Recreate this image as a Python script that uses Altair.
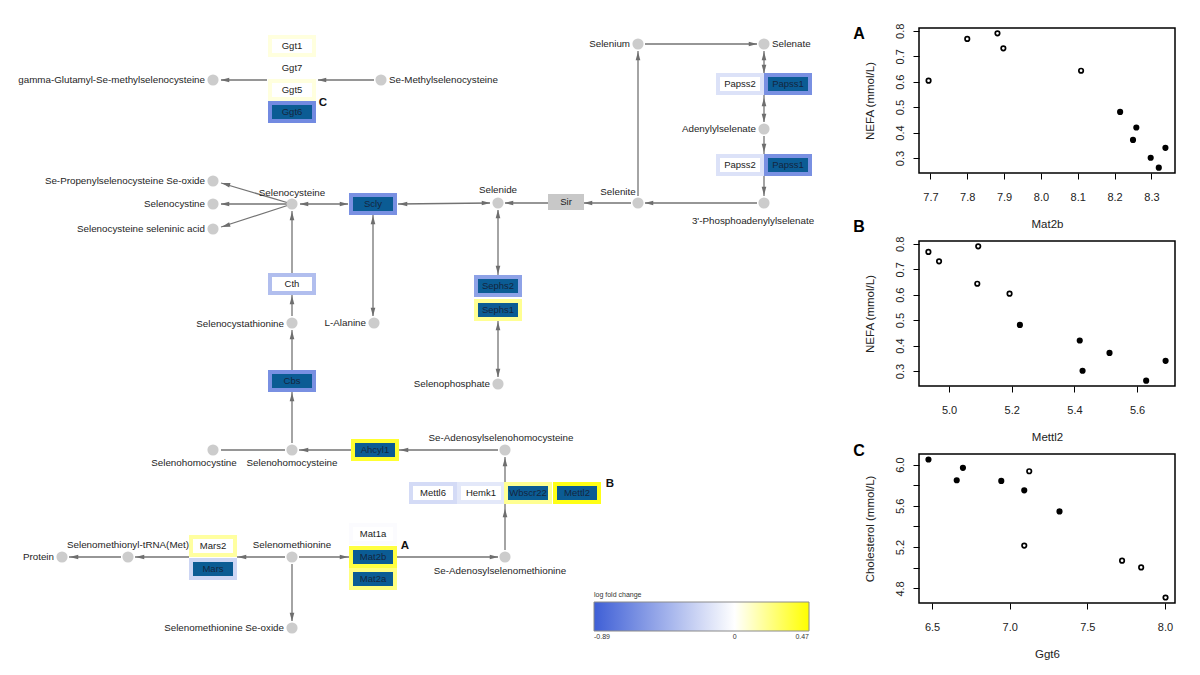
import altair as alt
import pandas as pd

# ---------------- pathway diagram data (diagram coordinates) ----------------
node_name = ["gamma-Glutamyl-Se-methylselenocysteine", "Se-Methylselenocysteine", "Selenium", "Selenate",
             "Adenylylselenate", "3'-Phosphoadenylylselenate", "Selenite", "Selenide", "Selenocysteine",
             "Se-Propenylselenocysteine Se-oxide", "Selenocystine", "Selenocysteine seleninic acid",
             "L-Alanine", "Selenocystathionine", "Selenophosphate", "Selenohomocystine",
             "Selenohomocysteine", "Se-Adenosylselenohomocysteine", "Selenomethionine",
             "Se-Adenosylselenomethionine", "Selenomethionyl-tRNA(Met)", "Protein",
             "Selenomethionine Se-oxide"]
node_x = [212, 380, 637, 763, 763, 763, 637, 497, 291, 212, 212, 212, 373, 291, 497, 212, 291, 504, 291, 504, 127, 61, 291]
node_y = [79, 79, 43, 43, 128, 202, 202, 202, 203, 180, 203, 228, 322, 322, 383, 449, 449, 449, 556, 556, 556, 556, 627]

label_text = ["gamma-Glutamyl-Se-methylselenocysteine", "Se-Propenylselenocysteine Se-oxide", "Selenocystine",
              "Selenocysteine seleninic acid", "Selenium", "Adenylylselenate", "L-Alanine",
              "Selenocystathionine", "Selenophosphate", "Protein", "Selenomethionine Se-oxide",
              "Se-Methylselenocysteine", "Selenate",
              "Selenocysteine", "Selenide", "Selenite", "3'-Phosphoadenylylselenate", "Selenohomocystine",
              "Selenohomocysteine", "Se-Adenosylselenohomocysteine", "Selenomethionine",
              "Selenomethionyl-tRNA(Met)", "Se-Adenosylselenomethionine"]
label_x = [204, 204, 204, 204, 629, 755, 365, 283, 489, 53, 283,
           388, 771,
           291, 497, 617, 752, 193, 291, 500, 291, 127, 499]
label_y = [79, 180, 203, 228, 43, 128, 322, 323, 383, 556, 627,
           79, 43,
           192, 189, 191, 220, 462, 462, 437, 544, 544, 570]
label_align = ["right"] * 11 + ["left"] * 2 + ["center"] * 10

gene_name = ["Ggt1", "Ggt7", "Ggt5", "Ggt6", "Scly", "Cth", "Cbs", "Papss2", "Papss1", "Papss2", "Papss1",
             "Sephs2", "Sephs1", "Ahcyl1", "Mettl6", "Hemk1", "Wbscr22", "Mettl2", "Mat1a", "Mat2b",
             "Mat2a", "Mars2", "Mars"]
gene_x = [291, 291, 291, 291, 372, 291, 291, 739, 787, 739, 787, 497, 497, 374, 432, 480, 527, 576, 372, 372, 372, 212, 212]
gene_y = [45, 67, 89, 111, 203, 283, 380, 83, 83, 164, 164, 285, 309, 449, 492, 492, 492, 492, 533, 556, 578, 545, 568]
gene_lfc = [0.06, 0.0, 0.06, -0.65, -0.62, -0.36, -0.62, -0.16, -0.62, -0.16, -0.62, -0.52, 0.2, 0.38,
            -0.2, -0.13, 0.2, 0.43, -0.02, 0.35, 0.235, 0.175, -0.23]
gene_fill = ["white", "white", "white", "dark", "dark", "white", "dark", "white", "dark", "white", "dark",
             "dark", "dark", "dark", "white", "white", "dark", "dark", "white", "dark", "dark", "white", "dark"]

other_name = ["Sir"]
other_x = [565]
other_y = [201]

edge_x1 = [373, 266, 291, 291, 291, 299, 397, 372, 291, 291, 291, 291, 220, 350, 497, 504, 298, 396, 284, 188, 120, 291,
           637, 644, 763, 763, 763, 763, 756, 630, 547, 497, 497]
edge_y1 = [79, 79, 203, 203, 203, 203, 203, 214, 272, 315, 369, 442, 449, 449, 449, 549, 556, 556, 556, 556, 556, 563,
           195, 43, 50, 94, 135, 175, 202, 202, 202, 209, 320]
edge_x2 = [317, 220, 220, 220, 220, 347, 489, 372, 291, 291, 291, 291, 284, 298, 398, 504, 348, 497, 236, 134, 68, 291,
           637, 756, 763, 763, 763, 763, 644, 583, 504, 497, 497]
edge_y2 = [79, 79, 182, 203, 226, 203, 202, 315, 210, 294, 329, 391, 449, 449, 449, 456, 556, 556, 556, 556, 556, 620,
           50, 43, 72, 121, 153, 195, 202, 202, 202, 274, 376]

head_x = [321, 224, 224.8, 224, 224.8, 303, 343, 402, 485, 372, 372, 291, 291, 291, 291, 303, 403, 504, 504, 343, 493,
          241, 139, 73, 291, 637, 752, 763, 763, 763, 763, 763, 763, 648, 587, 508, 497, 497, 497, 497]
head_y = [79, 79, 183.1, 203, 224.8, 203, 203, 203, 202, 219, 311, 215, 299, 334, 396, 449, 449, 512, 461, 556, 556,
          556, 556, 556, 616, 55, 43, 55, 68, 101, 117, 147, 190, 202, 202, 202, 213, 269, 325, 372]
head_angle = [270, 270, 286.5, 270, 252, 270, 90, 270, 90, 0, 180, 0, 0, 0, 0, 270, 270, 0, 0, 90, 90,
              270, 270, 270, 180, 0, 90, 0, 180, 0, 180, 180, 180, 270, 270, 270, 0, 180, 0, 180]

mark_letter = ["C", "B", "A"]
mark_letter_x = [322, 609, 404]
mark_letter_y = [102, 483, 545]

# ---------------- scatter data ----------------
nefa = [0.604, 0.768, 0.790, 0.731, 0.643, 0.481, 0.420, 0.371, 0.301, 0.262, 0.340]
mat2b = [7.695, 7.800, 7.882, 7.898, 8.109, 8.215, 8.259, 8.250, 8.298, 8.320, 8.338]
mettl2 = [5.193, 4.934, 5.093, 4.968, 5.090, 5.226, 5.417, 5.512, 5.426, 5.629, 5.691]
nefa_group = ["open"] * 5 + ["filled"] * 6

ggt6 = [6.477, 6.659, 6.699, 6.946, 7.094, 7.321, 7.126, 7.094, 7.724, 7.847, 8.004]
chol = [6.049, 5.848, 5.968, 5.841, 5.750, 5.546, 5.935, 5.215, 5.069, 5.004, 4.712]
chol_group = ["filled"] * 6 + ["open"] * 5

ticks_a_x = [7.7, 7.8, 7.9, 8.0, 8.1, 8.2, 8.3]
ticks_nefa = [0.3, 0.4, 0.5, 0.6, 0.7, 0.8]
ticks_b_x = [5.0, 5.2, 5.4, 5.6]
ticks_c_x = [6.5, 7.0, 7.5, 8.0]
ticks_c_y = [4.8, 5.0, 5.2, 5.4, 5.6, 5.8, 6.0]

FONT = "Liberation Sans"

# ---------------- pathway panel ----------------
PW, PH = 830, 640
X0, Y0 = 8, 27
xs = alt.Scale(domain=[X0, X0 + PW], nice=False, zero=False)
ys = alt.Scale(domain=[Y0, Y0 + PH], nice=False, zero=False, reverse=True)


def X(f):
    return alt.X(f, type="quantitative", scale=xs, axis=None)


def Y(f):
    return alt.Y(f, type="quantitative", scale=ys, axis=None)


nodes = pd.DataFrame({"name": node_name, "x": node_x, "y": node_y})
labels = pd.DataFrame({"text": label_text, "x": label_x, "y": label_y, "align": label_align})
genes = pd.DataFrame({"gene": gene_name, "x": gene_x, "y": gene_y, "lfc": gene_lfc, "fill": gene_fill})
others = pd.DataFrame({"name": other_name, "x": other_x, "y": other_y})
edges = pd.DataFrame({"x1": edge_x1, "y1": edge_y1, "x2": edge_x2, "y2": edge_y2})
heads = pd.DataFrame({"x": head_x, "y": head_y, "angle": head_angle})
letters = pd.DataFrame({"t": mark_letter, "x": mark_letter_x, "y": mark_letter_y})

edge_layer = alt.Chart(edges).mark_rule(color="#737373", strokeWidth=1.3).encode(
    x=X("x1"), y=Y("y1"), x2="x2:Q", y2="y2:Q")

head_layer = alt.Chart(heads).mark_point(
    shape="M0,-1L0.55,1L-0.55,1Z", filled=True, color="#6e6e6e", size=72, opacity=1
).encode(x=X("x"), y=Y("y"), angle=alt.Angle("angle:Q", scale=None))

node_layer = alt.Chart(nodes).mark_circle(size=125, color="#cccccc", opacity=1).encode(x=X("x"), y=Y("y"))

color_scale = alt.Scale(domain=[-0.89, 0, 0.47], range=["#3e5fd6", "#ffffff", "#ffff00"], interpolate="rgb")
legend = alt.Legend(orient="none", legendX=585, legendY=563, direction="horizontal",
                    gradientLength=215, gradientThickness=29, title="log fold change",
                    titleFontSize=7, titleFontWeight="normal", titleColor="#333", titlePadding=4,
                    titleFont=FONT, labelFont=FONT, labelFontSize=7, labelColor="#333",
                    values=[-0.89, 0, 0.47], labelExpr="toString(datum.value)",
                    gradientStrokeColor="#8a8a8a", gradientStrokeWidth=1)

gene_base = alt.Chart(genes).transform_calculate(
    bx1="datum.x - 24", bx2="datum.x + 24", by1="datum.y - 11", by2="datum.y + 11",
    ix1="datum.x - 20", ix2="datum.x + 20", iy1="datum.y - 7", iy2="datum.y + 7")

outer_layer = gene_base.mark_rect().encode(
    x=X("bx1"), x2="bx2:Q", y=Y("by1"), y2="by2:Q",
    color=alt.Color("lfc:Q", scale=color_scale, legend=legend))
inner_dark = gene_base.transform_filter("datum.fill == 'dark'").mark_rect(color="#0b5c94").encode(
    x=X("ix1"), x2="ix2:Q", y=Y("iy1"), y2="iy2:Q")
inner_white = gene_base.transform_filter("datum.fill == 'white'").mark_rect(color="#ffffff").encode(
    x=X("ix1"), x2="ix2:Q", y=Y("iy1"), y2="iy2:Q")
gene_text_dark = gene_base.transform_filter("datum.fill == 'dark'").mark_text(
    fontSize=9.5, font=FONT, color="#14263f").encode(x=X("x"), y=Y("y"), text="gene:N")
gene_text_white = gene_base.transform_filter("datum.fill == 'white'").mark_text(
    fontSize=9.5, font=FONT, color="#222222").encode(x=X("x"), y=Y("y"), text="gene:N")

other_base = alt.Chart(others).transform_calculate(
    bx1="datum.x - 18", bx2="datum.x + 18", by1="datum.y - 8", by2="datum.y + 8")
other_box = other_base.mark_rect(color="#c8c8c8").encode(x=X("bx1"), x2="bx2:Q", y=Y("by1"), y2="by2:Q")
other_text = other_base.mark_text(fontSize=9.5, font=FONT, color="#222").encode(x=X("x"), y=Y("y"), text="name:N")

lab_layers = []
for al in ["right", "left", "center"]:
    lab_layers.append(
        alt.Chart(labels).transform_filter(f"datum.align == '{al}'").mark_text(
            align=al, baseline="middle", fontSize=9.8, font=FONT, color="#1e1e1e"
        ).encode(x=X("x"), y=Y("y"), text="text:N"))

letter_layer = alt.Chart(letters).mark_text(fontSize=11.5, fontWeight="bold", font=FONT, color="#111").encode(
    x=X("x"), y=Y("y"), text="t:N")

pathway = alt.layer(
    edge_layer, head_layer, node_layer, outer_layer, inner_dark, inner_white, other_box,
    gene_text_dark, gene_text_white, other_text, *lab_layers, letter_layer
).properties(width=PW, height=PH, view=alt.ViewBackground(stroke="transparent"))


# ---------------- scatter panels ----------------
def scatter(df, xf, yf, xdom, ydom, xticks, yticks, xtitle, ytitle, letter, ldy, h,
            ylabel_expr=None, xtpad=16, ytpad=19):
    yaxis_kw = dict(values=yticks, format=".1f", tickSize=6, tickColor="black", tickWidth=1, domain=False,
                    grid=False, labelAngle=270, labelAlign="center", labelBaseline="bottom",
                    labelFontSize=11, labelColor="#222", labelFont=FONT, labelPadding=8,
                    title=ytitle, titleFontSize=11.5, titleFontWeight="normal", titleColor="#222",
                    titleFont=FONT, titlePadding=ytpad)
    if ylabel_expr:
        yaxis_kw["labelExpr"] = ylabel_expr
    xenc = alt.X(f"{xf}:Q", scale=alt.Scale(domain=xdom, nice=False, zero=False),
                 axis=alt.Axis(values=xticks, format=".1f", tickSize=6, tickColor="black", tickWidth=1,
                               domain=False, grid=False, labelFontSize=11, labelColor="#222",
                               labelFont=FONT, labelPadding=12, labelFlush=False,
                               title=xtitle, titleFontSize=11.5, titleFontWeight="normal",
                               titleColor="#222", titleFont=FONT, titlePadding=xtpad))
    yenc = alt.Y(f"{yf}:Q", scale=alt.Scale(domain=ydom, nice=False, zero=False), axis=alt.Axis(**yaxis_kw))
    base = alt.Chart(df)
    open_pts = base.transform_filter("datum.g == 'open'").mark_point(
        shape="circle", filled=False, color="black", strokeWidth=1.7, size=20, opacity=1
    ).encode(x=xenc, y=yenc)
    fill_pts = base.transform_filter("datum.g == 'filled'").mark_circle(
        color="black", size=38, opacity=1).encode(x=xenc, y=yenc)
    let = alt.Chart(pd.DataFrame({"t": [letter]})).mark_text(
        fontSize=16, fontWeight="bold", font=FONT, color="black", align="center", baseline="middle"
    ).encode(x=alt.value(-60), y=alt.value(ldy), text="t:N")
    return alt.layer(open_pts, fill_pts, let).properties(
        width=256, height=h, view=alt.ViewBackground(stroke="black", strokeWidth=1.5))


dfa = pd.DataFrame({"x": mat2b, "y": nefa, "g": nefa_group})
dfb = pd.DataFrame({"x": mettl2, "y": nefa, "g": nefa_group})
dfc = pd.DataFrame({"x": ggt6, "y": chol, "g": chol_group})

pa = scatter(dfa, "x", "y", [7.669, 8.364], [0.241, 0.811], ticks_a_x, ticks_nefa,
             "Mat2b", "NEFA (mmol/L)", "A", 6, 145)
pb = scatter(dfb, "x", "y", [4.904, 5.721], [0.241, 0.811], ticks_b_x, ticks_nefa,
             "Mettl2", "NEFA (mmol/L)", "B", -14, 145)
pc = scatter(dfc, "x", "y", [6.416, 8.065], [4.659, 6.102], ticks_c_x, ticks_c_y,
             "Ggt6", "Cholesterol (mmol/L)", "C", -3, 149,
             ylabel_expr="(round(datum.value*10) % 4 == 0) ? format(datum.value, '.1f') : ''")

right = alt.vconcat(pa, pb, pc, spacing=68, bounds="flush")

chart = alt.hconcat(pathway, right, spacing=80, bounds="flush").properties(
    padding={"left": 0, "top": 14, "right": 0, "bottom": 0}
).configure(font=FONT).configure_view(stroke="black")

chart.save("out.html", embed_options={"renderer": "svg", "actions": False})
